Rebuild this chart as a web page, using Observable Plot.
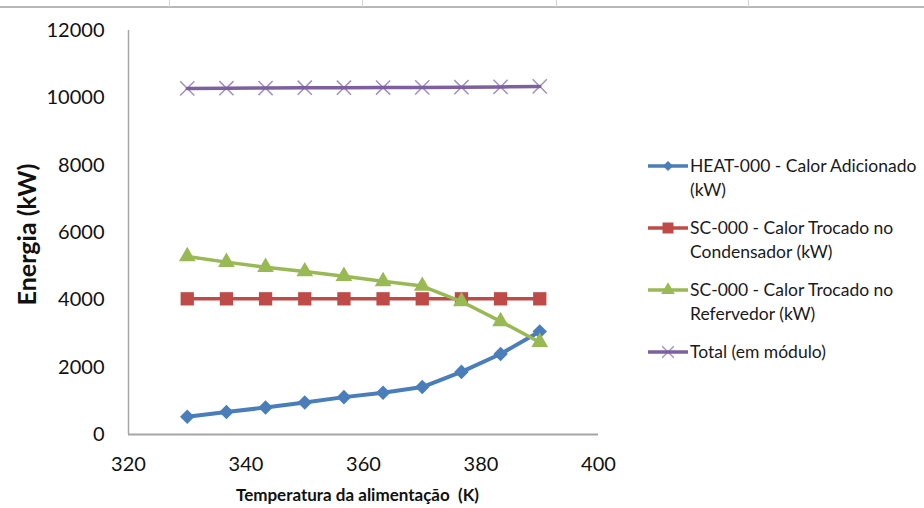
<!DOCTYPE html>
<html>
<head>
<meta charset="utf-8">
<script src="https://cdn.jsdelivr.net/npm/d3@7"></script>
<script src="https://cdn.jsdelivr.net/npm/@observablehq/plot@0.6"></script>
<style>
  html, body { margin: 0; padding: 0; background: #fff; }
  #wrap { position: relative; width: 924px; height: 508px; overflow: hidden; font-family: Lato, "Open Sans", sans-serif; }
  .grid-h { position: absolute; left: 0; top: 6px; width: 924px; height: 0; border-top: 2px solid #b8b8b8; }
  .grid-v { position: absolute; top: 0; width: 0; height: 7px; border-left: 1px solid #d4d4d4; }
  #legend { position: absolute; left: 646px; top: 154px; font-size: 17.5px; color: #1a1a1a; }
  .item { position: relative; padding-left: 44px; line-height: 24px; margin-bottom: 14px; }
  .item svg { position: absolute; left: 0; top: 2px; }
</style>
</head>
<body>
<div id="wrap">
  <div class="grid-h"></div>
  <div class="grid-v" style="left:169px"></div>
  <div class="grid-v" style="left:362px"></div>
  <div class="grid-v" style="left:556px"></div>
  <div class="grid-v" style="left:748px"></div>
  <div id="chart"></div>
  <div id="legend"></div>
</div>
<script>
// ---- data ----
const temperatures = [330, 336.67, 343.33, 350, 356.67, 363.33, 370, 376.67, 383.33, 390];
const heatAdded    = [530, 670, 800, 950, 1110, 1240, 1410, 1860, 2390, 3060];
const condenser    = [4030, 4030, 4030, 4030, 4030, 4030, 4030, 4030, 4030, 4030];
const reboiler     = [5290, 5120, 4970, 4840, 4700, 4550, 4410, 3950, 3360, 2740];
const totalAbs     = [10280, 10285, 10290, 10300, 10300, 10305, 10310, 10315, 10325, 10340];

const seriesNames = [
  "HEAT-000 - Calor Adicionado (kW)",
  "SC-000 - Calor Trocado no Condensador (kW)",
  "SC-000 - Calor Trocado no Refervedor (kW)",
  "Total (em módulo)"
];
const legendLines = [
  ["HEAT-000 - Calor Adicionado", "(kW)"],
  ["SC-000 - Calor Trocado no", "Condensador (kW)"],
  ["SC-000 - Calor Trocado no", "Refervedor (kW)"],
  ["Total (em módulo)"]
];
const xTicks = [320, 340, 360, 380, 400];
const yTicks = [0, 2000, 4000, 6000, 8000, 10000, 12000];
const xTitle = "Temperatura da alimentação  (K)";
const yTitle = "Energia (kW)";

const colors = ["#4A7EBB", "#BE4B48", "#98B954", "#7D60A0"];
const symbols = ["square", "square", "triangle", "times"];
const symbolRotate = [45, 0, 0, 0];
const markR = [5.8, 7.5, 6.2, 6.5];
const lineWidths = [4, 3.5, 3.5, 3.5];
const seriesValues = [heatAdded, condenser, reboiler, totalAbs];

const rows = [];
seriesNames.forEach((name, i) => {
  temperatures.forEach((t, j) => rows.push({series: name, i, t, v: seriesValues[i][j]}));
});

const marks = [
  Plot.ruleY([0], {stroke: "#a6a6a6", strokeWidth: 2}),
  Plot.ruleX([320], {stroke: "#a6a6a6", strokeWidth: 1.5}),
  Plot.axisY({ticks: yTicks, tickSize: 0, tickPadding: 24, tickFormat: d3.format("d"), label: null, fontSize: 20, fill: "#111"}),
  Plot.axisX({ticks: xTicks, tickSize: 0, tickPadding: 22, tickFormat: d3.format("d"), label: null, fontSize: 20, fill: "#111"}),
  Plot.text([xTitle], {frameAnchor: "bottom", textAnchor: "middle", dy: 66, dx: -6, fontSize: 17, fontWeight: "bold", fill: "#111"}),
  Plot.text([yTitle], {frameAnchor: "left", textAnchor: "middle", rotate: -90, dx: -101, dy: 2, fontSize: 25, fontWeight: "bold", fill: "#111"})
];
seriesNames.forEach((name, i) => {
  const d = rows.filter(r => r.i === i);
  marks.push(Plot.line(d, {x: "t", y: "v", stroke: colors[i], strokeWidth: lineWidths[i]}));
  if (symbols[i] === "times") {
    marks.push(Plot.dot(d, {x: "t", y: "v", symbol: "times", r: markR[i], stroke: colors[i], strokeOpacity: 0.7, strokeWidth: 1.5}));
  } else {
    marks.push(Plot.dot(d, {x: "t", y: "v", symbol: symbols[i], rotate: symbolRotate[i], r: markR[i], fill: colors[i], stroke: "none"}));
  }
});

const chart = Plot.plot({
  width: 924,
  height: 508,
  marginLeft: 128,
  marginRight: 326,
  marginTop: 30,
  marginBottom: 74,
  style: {fontFamily: "Lato, 'Open Sans', sans-serif", background: "transparent", overflow: "visible"},
  x: {domain: [320, 400]},
  y: {domain: [0, 12000]},
  marks
});
document.getElementById("chart").appendChild(chart);

// ---- legend ----
const legend = d3.select("#legend");
const symTypes = {square: d3.symbolSquare, triangle: d3.symbolTriangle, times: d3.symbolTimes};
seriesNames.forEach((name, i) => {
  const item = legend.append("div").attr("class", "item");
  const svg = item.append("svg").attr("width", 44).attr("height", 20);
  svg.append("line").attr("x1", 2).attr("x2", 42).attr("y1", 10).attr("y2", 10)
    .attr("stroke", colors[i]).attr("stroke-width", 3.5);
  const size = [50, 120, 80, 90][i];
  const sym = d3.symbol().type(symTypes[symbols[i]]).size(size)();
  const p = svg.append("path").attr("d", sym).attr("transform", `translate(22,10) rotate(${symbolRotate[i]})`);
  if (symbols[i] === "times") p.attr("fill", "none").attr("stroke", colors[i]).attr("stroke-width", 1.3).attr("stroke-opacity", 0.7);
  else p.attr("fill", colors[i]);
  legendLines[i].forEach(l => item.append("div").text(l));
});
</script>
</body>
</html>
